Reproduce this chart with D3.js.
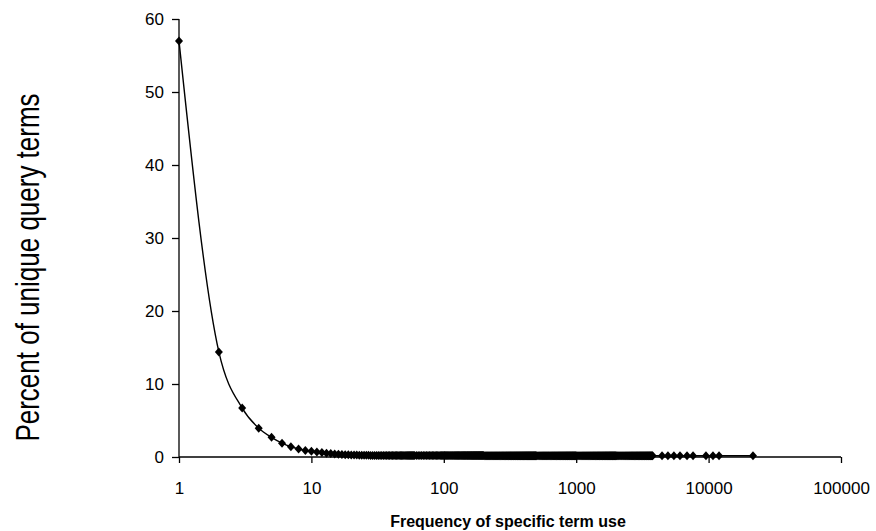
<!DOCTYPE html>
<html>
<head>
<meta charset="utf-8">
<script src="https://cdn.jsdelivr.net/npm/d3@7/dist/d3.min.js"></script>
<style>
  html, body { margin: 0; padding: 0; background: #fff; }
  svg { display: block; }
  text { font-family: "Liberation Sans", Arial, sans-serif; fill: #000; }
</style>
</head>
<body>
<svg id="chart" width="876" height="531"></svg>
<script>
// ---- data ----
const frequency = [
  1,2,3,4,5,6,7,8,9,10,11,12,13,14,15,16,17,18,19,20,
  21,22,23,24,25,26,27,28,29,30,31,32,33,34,35,36,37,38,39,40,
  41,42,43,44,45,46,47,48,49,50,51,52,53,54,55,56,57,58,59,60,
  62,64,66,68,70,72,74,76,78,80,82,84,86,88,90,92,94,96,98,100,
  101,103,105,107,109,111,113,115,117,119,121,123,125,127,129,131,133,135,137,139,
  141,143,145,147,149,151,153,155,157,159,161,163,165,167,169,171,173,175,177,179,
  181,183,185,187,189,191,193,195,197,199,
  202,206,210,214,218,222,226,230,234,238,242,246,250,254,258,262,266,270,274,278,
  282,286,290,294,298,302,306,310,314,318,322,326,330,334,338,342,346,350,354,358,
  362,366,370,374,378,382,386,390,394,398,402,406,410,414,418,422,426,430,434,438,
  442,446,450,454,458,462,466,470,474,478,482,486,490,494,498,
  505,515,525,535,545,555,565,575,585,595,605,615,625,635,645,655,665,675,685,695,
  705,715,725,735,745,755,765,775,785,795,805,815,825,835,845,855,865,875,885,895,
  905,915,925,935,945,955,965,975,985,995,
  1010,1030,1050,1070,1090,1110,1130,1150,1170,1190,1210,1230,1250,1270,1290,1310,1330,1350,1370,1390,
  1410,1430,1450,1470,1490,1510,1530,1550,1570,1590,1610,1630,1650,1670,1690,1710,1730,1750,1770,1790,
  1810,1830,1850,1870,1890,1910,1930,1950,1970,1990,
  2020,2060,2100,2140,2180,2220,2260,2300,2340,2380,2420,2460,2500,2540,2580,2620,2660,2700,2740,2780,
  2820,2860,2900,2940,2980,3020,3060,3100,3140,3180,3220,3260,3300,3340,3380,3420,3460,3500,3540,3580,
  3620,3660,3700,3740,3780,
  4450,4930,5470,6080,6870,7630,9550,10790,11990,21640
];
const percentTerms = [
  57.0,14.4,6.7,3.95,2.7,1.9,1.4,1.1,0.9,0.78,0.68,0.6,0.52,0.47,0.42,0.38,0.35,0.32,0.3,0.28,
  0.27,0.26,0.25,0.24,0.24,0.23,0.23,0.22,0.22,0.22,0.21,0.21,0.21,0.21,0.2,0.2,0.2,0.2,0.2,0.2,
  0.2,0.2,0.2,0.2,0.2,0.2,0.2,0.2,0.2,0.2,0.2,0.2,0.2,0.2,0.2,0.2,0.2,0.2,0.2,0.2,
  0.19,0.19,0.19,0.19,0.19,0.19,0.19,0.19,0.19,0.19,0.19,0.19,0.19,0.19,0.19,0.19,0.19,0.19,0.19,0.19,
  0.19,0.19,0.19,0.19,0.19,0.19,0.19,0.19,0.19,0.19,0.19,0.19,0.19,0.19,0.19,0.19,0.19,0.19,0.19,0.19,
  0.19,0.19,0.19,0.19,0.19,0.19,0.19,0.19,0.19,0.19,0.19,0.19,0.19,0.19,0.19,0.19,0.19,0.19,0.19,0.19,
  0.19,0.19,0.19,0.19,0.19,0.19,0.19,0.19,0.19,0.19,
  0.18,0.18,0.18,0.18,0.18,0.18,0.18,0.18,0.18,0.18,0.18,0.18,0.18,0.18,0.18,0.18,0.18,0.18,0.18,0.18,
  0.18,0.18,0.18,0.18,0.18,0.18,0.18,0.18,0.18,0.18,0.18,0.18,0.18,0.18,0.18,0.18,0.18,0.18,0.18,0.18,
  0.18,0.18,0.18,0.18,0.18,0.18,0.18,0.18,0.18,0.18,0.18,0.18,0.18,0.18,0.18,0.18,0.18,0.18,0.18,0.18,
  0.18,0.18,0.18,0.18,0.18,0.18,0.18,0.18,0.18,0.18,0.18,0.18,0.18,0.18,0.18,
  0.18,0.18,0.18,0.18,0.18,0.18,0.18,0.18,0.18,0.18,0.18,0.18,0.18,0.18,0.18,0.18,0.18,0.18,0.18,0.18,
  0.18,0.18,0.18,0.18,0.18,0.18,0.18,0.18,0.18,0.18,0.18,0.18,0.18,0.18,0.18,0.18,0.18,0.18,0.18,0.18,
  0.18,0.18,0.18,0.18,0.18,0.18,0.18,0.18,0.18,0.18,
  0.18,0.18,0.18,0.18,0.18,0.18,0.18,0.18,0.18,0.18,0.18,0.18,0.18,0.18,0.18,0.18,0.18,0.18,0.18,0.18,
  0.18,0.18,0.18,0.18,0.18,0.18,0.18,0.18,0.18,0.18,0.18,0.18,0.18,0.18,0.18,0.18,0.18,0.18,0.18,0.18,
  0.18,0.18,0.18,0.18,0.18,0.18,0.18,0.18,0.18,0.18,
  0.18,0.18,0.18,0.18,0.18,0.18,0.18,0.18,0.18,0.18,0.18,0.18,0.18,0.18,0.18,0.18,0.18,0.18,0.18,0.18,
  0.18,0.18,0.18,0.18,0.18,0.18,0.18,0.18,0.18,0.18,0.18,0.18,0.18,0.18,0.18,0.18,0.18,0.18,0.18,0.18,
  0.18,0.18,0.18,0.18,0.18,
  0.18,0.18,0.18,0.18,0.18,0.18,0.18,0.18,0.18,0.18
];
const xTicks = [1,10,100,1000,10000,100000];
const yTicks = [0,10,20,30,40,50,60];
const xTitle = "Frequency of specific term use";
const yTitle = "Percent of unique query terms";

// ---- layout ----
const svg = d3.select("#chart");
const mLeft = 179, mRight = 841, mTop = 19, mBottom = 457;

const x = d3.scaleLog().domain([1, 100000]).range([mLeft, mRight]);
const y = d3.scaleLinear().domain([0, 60]).range([mBottom, mTop]);

const n = Math.min(frequency.length, percentTerms.length);
const points = frequency.slice(0, n).map((f, i) => ({f, p: percentTerms[i]}));

// axes
const yAxis = d3.axisLeft(y).tickValues(yTicks).tickSize(7).tickPadding(8).tickFormat(d3.format("d"));
const xAxis = d3.axisBottom(x).tickValues(xTicks).tickSize(6).tickPadding(19).tickFormat(d3.format("d"));

const gy = svg.append("g").attr("transform", `translate(${mLeft},0)`).call(yAxis);
const gx = svg.append("g").attr("transform", `translate(0,${mBottom})`).call(xAxis);

[gx, gy].forEach(g => {
  g.select(".domain").attr("stroke", "#000").attr("stroke-width", 1.3);
  g.selectAll(".tick line").attr("stroke", "#000").attr("stroke-width", 1.3);
  g.selectAll(".tick text").attr("font-size", 17).attr("font-family", "'Liberation Sans', Arial, sans-serif").attr("fill", "#000");
});
gy.select(".domain").attr("d", `M0,${mTop}V${mBottom}`);
gx.select(".domain").attr("d", `M${mLeft},0H${mRight}`);

// smoothed line
const line = d3.line()
  .x(d => x(d.f))
  .y(d => y(d.p))
  .curve(d3.curveMonotoneX);

svg.append("path")
  .datum(points)
  .attr("fill", "none")
  .attr("stroke", "#000")
  .attr("stroke-width", 1.4)
  .attr("d", line);

// diamond markers
svg.append("g").selectAll("path")
  .data(points)
  .join("path")
  .attr("transform", d => `translate(${x(d.f)},${y(d.p)})`)
  .attr("d", "M0,-4.5L4,0L0,4.5L-4,0Z")
  .attr("fill", "#000");

// titles
svg.append("text")
  .attr("x", 508)
  .attr("y", 527)
  .attr("text-anchor", "middle")
  .attr("font-weight", "bold")
  .attr("font-size", 16)
  .text(xTitle);

svg.append("text")
  .attr("transform", `translate(38.5,267.5) rotate(-90) scale(1,1.3)`)
  .attr("text-anchor", "middle")
  .attr("font-size", 26)
  .text(yTitle);
</script>
</body>
</html>
